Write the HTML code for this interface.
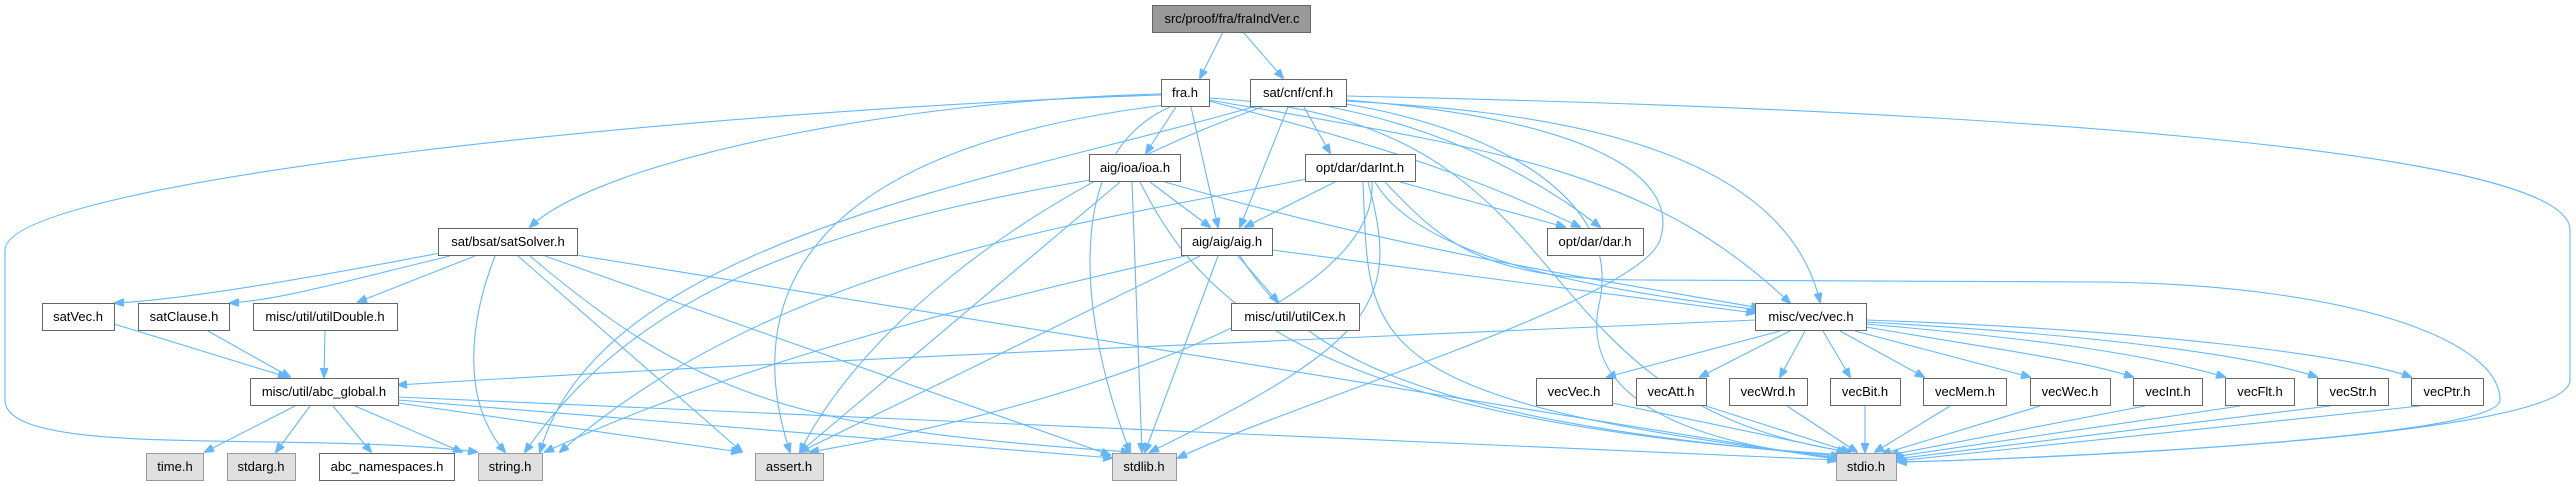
<!DOCTYPE html>
<html><head><meta charset="utf-8"><style>
html,body{margin:0;padding:0;background:#fff;}
svg{display:block;}
text{font-family:"Liberation Sans",Arial,sans-serif;font-size:13px;fill:#000;text-anchor:middle;}
.n{fill:#fff;stroke:#666;stroke-width:1;}
.g{fill:#e0e0e0;stroke:#999;stroke-width:1;}
.m{fill:#999;stroke:#666;stroke-width:1;}
path{fill:none;stroke:#63b8ff;stroke-width:1.1;marker-end:url(#a);}
</style></head><body>
<svg width="2576" height="485" viewBox="0 0 2576 485" xmlns="http://www.w3.org/2000/svg">
<defs><marker id="a" markerWidth="10" markerHeight="8" refX="9" refY="4" orient="auto" markerUnits="userSpaceOnUse"><path d="M0,0 L10,4 L0,8 z" style="fill:#63b8ff;stroke:#63b8ff;marker-end:none"/></marker></defs>
<g>
<path d="M1223,32 L1200,78"/>
<path d="M1243,32 L1283,78"/>
<path d="M1161,94 C900,100 600,160 530,227"/>
<path d="M1176,107 L1146,153"/>
<path d="M1191,107 L1218,227"/>
<path d="M1161,95 C700,110 5,180 5,250 L5,400 C5,460 300,430 477,452"/>
<path d="M1165,105 C800,150 740,300 790,452"/>
<path d="M1170,107 C1050,160 1090,350 1130,452"/>
<path d="M1209,101 C1400,150 1480,180 1580,227"/>
<path d="M1209,100 C1500,150 1650,170 1790,303"/>
<path d="M1209,98 C1600,120 1500,400 1850,452"/>
<path d="M1304,107 L1330,153"/>
<path d="M1288,107 L1240,227"/>
<path d="M1346,101 C1500,110 1780,130 1820,302"/>
<path d="M1346,96 C2000,110 2570,150 2570,230 L2570,380 C2570,440 2000,460 1898,462"/>
<path d="M1346,100 C1600,120 1680,180 1660,240 C1640,300 1300,400 1178,458"/>
<path d="M1253,107 C1000,180 600,240 540,452"/>
<path d="M1262,107 C1000,200 850,350 800,452"/>
<path d="M1330,107 C1450,130 1540,180 1600,227"/>
<path d="M1346,104 C1500,130 1620,200 1600,300 C1580,380 1650,440 1840,458"/>
<path d="M1150,182 L1210,227"/>
<path d="M1090,180 C800,230 630,300 525,452"/>
<path d="M1120,182 L800,452"/>
<path d="M1132,182 L1142,452"/>
<path d="M1140,182 C1200,300 1300,420 1845,455"/>
<path d="M1165,182 C1400,250 1600,280 1760,308"/>
<path d="M1335,182 L1245,227"/>
<path d="M1400,182 L1565,227"/>
<path d="M1375,182 C1420,260 1600,290 1760,310"/>
<path d="M1385,182 C1440,240 1480,280 1640,280 L2100,282 C2350,285 2500,340 2500,400 C2500,440 2000,460 1898,462"/>
<path d="M1368,182 C1400,300 1380,340 1150,452"/>
<path d="M1312,178 C1100,220 780,260 560,452"/>
<path d="M1372,182 C1380,320 1000,420 810,452"/>
<path d="M1363,182 C1370,340 1350,400 1840,458"/>
<path d="M440,253 C300,280 180,300 115,303"/>
<path d="M450,256 C350,280 280,300 230,303"/>
<path d="M475,256 L358,302"/>
<path d="M495,256 C470,320 460,400 505,452"/>
<path d="M518,256 L742,452"/>
<path d="M545,256 L1110,455"/>
<path d="M570,254 L1840,460"/>
<path d="M530,256 C700,400 800,430 1130,452"/>
<path d="M1272,250 L1755,313"/>
<path d="M1238,256 L1278,302"/>
<path d="M1200,256 L800,452"/>
<path d="M1218,256 L1145,452"/>
<path d="M1185,256 C900,320 700,380 545,452"/>
<path d="M1240,256 C1300,350 1400,420 1840,456"/>
<path d="M114,324 L287,377"/>
<path d="M208,331 L290,377"/>
<path d="M325,331 L324,377"/>
<path d="M1755,320 C1300,340 800,360 398,385"/>
<path d="M1780,331 L1607,377"/>
<path d="M1790,331 L1700,377"/>
<path d="M1805,331 L1780,377"/>
<path d="M1823,331 L1850,377"/>
<path d="M1840,331 L1924,377"/>
<path d="M1855,331 L2030,377"/>
<path d="M1866,327 C2000,350 2080,360 2133,377"/>
<path d="M1866,324 C2050,340 2150,355 2225,377"/>
<path d="M1866,322 C2100,335 2250,355 2317,377"/>
<path d="M1866,320 C2150,330 2350,355 2411,377"/>
<path d="M1612,403 L1846,452"/>
<path d="M1706,406 L1850,452"/>
<path d="M1787,406 L1857,452"/>
<path d="M1865,406 L1865,452"/>
<path d="M1950,406 L1875,452"/>
<path d="M2040,406 L1882,454"/>
<path d="M2145,406 L1890,455"/>
<path d="M2240,406 L1893,457"/>
<path d="M2330,406 L1895,459"/>
<path d="M2420,406 L1896,461"/>
<path d="M295,406 L205,452"/>
<path d="M310,406 L276,452"/>
<path d="M333,406 L371,452"/>
<path d="M355,406 L462,452"/>
<path d="M398,403 L740,452"/>
<path d="M398,400 L1112,458"/>
<path d="M398,397 L1836,460"/>
</g>
<rect class="m" x="1152.5" y="5.5" width="158" height="27"/><text x="1232" y="23">src/proof/fra/fraIndVer.c</text>
<rect class="n" x="1161.5" y="79.5" width="48" height="27"/><text x="1185" y="97">fra.h</text>
<rect class="n" x="1250.5" y="79.5" width="96" height="27"/><text x="1298" y="97">sat/cnf/cnf.h</text>
<rect class="n" x="1089.5" y="154.5" width="91" height="27"/><text x="1135" y="172">aig/ioa/ioa.h</text>
<rect class="n" x="1305.5" y="154.5" width="110" height="27"/><text x="1360" y="172">opt/dar/darInt.h</text>
<rect class="n" x="438.5" y="228.5" width="139" height="27"/><text x="508" y="246">sat/bsat/satSolver.h</text>
<rect class="n" x="1181.5" y="228.5" width="91" height="27"/><text x="1227" y="246">aig/aig/aig.h</text>
<rect class="n" x="1547.5" y="228.5" width="96" height="27"/><text x="1595" y="246">opt/dar/dar.h</text>
<rect class="n" x="42.5" y="303.5" width="72" height="27"/><text x="78" y="321">satVec.h</text>
<rect class="n" x="138.5" y="303.5" width="91" height="27"/><text x="184" y="321">satClause.h</text>
<rect class="n" x="253.5" y="303.5" width="144" height="27"/><text x="325" y="321">misc/util/utilDouble.h</text>
<rect class="n" x="1231.5" y="303.5" width="128" height="27"/><text x="1295" y="321">misc/util/utilCex.h</text>
<rect class="n" x="1755.5" y="303.5" width="111" height="27"/><text x="1811" y="321">misc/vec/vec.h</text>
<rect class="n" x="250.5" y="378.5" width="148" height="27"/><text x="324" y="396">misc/util/abc_global.h</text>
<rect class="n" x="1536.5" y="378.5" width="76" height="27"/><text x="1574" y="396">vecVec.h</text>
<rect class="n" x="1636.5" y="378.5" width="70" height="27"/><text x="1671" y="396">vecAtt.h</text>
<rect class="n" x="1729.5" y="378.5" width="78" height="27"/><text x="1768" y="396">vecWrd.h</text>
<rect class="n" x="1830.5" y="378.5" width="70" height="27"/><text x="1865" y="396">vecBit.h</text>
<rect class="n" x="1923.5" y="378.5" width="83" height="27"/><text x="1965" y="396">vecMem.h</text>
<rect class="n" x="2030.5" y="378.5" width="80" height="27"/><text x="2070" y="396">vecWec.h</text>
<rect class="n" x="2133.5" y="378.5" width="69" height="27"/><text x="2168" y="396">vecInt.h</text>
<rect class="n" x="2225.5" y="378.5" width="69" height="27"/><text x="2260" y="396">vecFlt.h</text>
<rect class="n" x="2317.5" y="378.5" width="71" height="27"/><text x="2353" y="396">vecStr.h</text>
<rect class="n" x="2411.5" y="378.5" width="72" height="27"/><text x="2447" y="396">vecPtr.h</text>
<rect class="g" x="146.5" y="453.5" width="57" height="27"/><text x="175" y="471">time.h</text>
<rect class="g" x="227.5" y="453.5" width="68" height="27"/><text x="261" y="471">stdarg.h</text>
<rect class="n" x="319.5" y="453.5" width="135" height="27"/><text x="387" y="471">abc_namespaces.h</text>
<rect class="g" x="478.5" y="453.5" width="64" height="27"/><text x="510" y="471">string.h</text>
<rect class="g" x="755.5" y="453.5" width="68" height="27"/><text x="789" y="471">assert.h</text>
<rect class="g" x="1112.5" y="453.5" width="64" height="27"/><text x="1144" y="471">stdlib.h</text>
<rect class="g" x="1836.5" y="453.5" width="60" height="27"/><text x="1866" y="471">stdio.h</text>
</svg>
</body></html>
